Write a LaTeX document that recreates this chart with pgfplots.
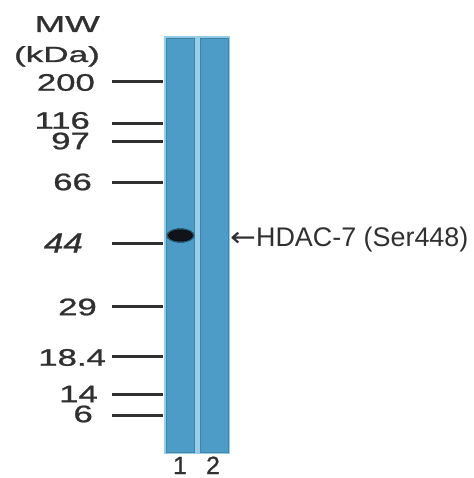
\documentclass[border=0pt]{standalone}
\usepackage{pgfplots}
\pgfplotsset{compat=1.18}
\usepackage{pgfplotstable}
\usepackage{fontspec}
\setmainfont{Liberation Sans}
\newfontfamily\markfont{Liberation Sans}[UprightFeatures={FakeBold=0.9}, ItalicFeatures={FakeBold=0.9}]
\newfontfamily\arrowfont{DejaVu Sans}

\definecolor{lane}{RGB}{76,156,199}
\definecolor{lanelight}{RGB}{150,205,232}
\definecolor{ink}{RGB}{48,48,48}
\definecolor{band}{RGB}{16,20,26}

% marker ladder: right end of label (px), line/label centre (px), size in kDa
\pgfplotstableread{
xend y label
95 82.5 200
90 120.5 116
90 141 97
92 182 66
97 307 29
106 357.5 18.4
98 394 14
93 414 6
}\markers

\begin{document}
\begin{tikzpicture}
\begin{axis}[
  width=474bp, height=478bp, scale only axis,
  xmin=0, xmax=474, ymin=0, ymax=478, y dir=reverse,
  hide axis, clip=false,
]
% lane background (light edges and gap)
\addplot[fill=lanelight, draw=none] coordinates {(164,36) (230,36) (230,454) (164,454)};
% lane 1 and lane 2
\addplot[fill=lane, draw=lane!85!black, line width=0.6bp] coordinates {(166,38) (194,38) (194,452) (166,452) (166,38)};
\addplot[fill=lane, draw=lane!85!black, line width=0.6bp] coordinates {(200,38) (228,38) (228,452) (200,452) (200,38)};

% band in lane 1
\addplot[only marks, mark=*, mark size=7bp,
  mark options={xscale=1.95, fill=band!70!lane, draw=none, opacity=0.55}] coordinates {(180.5,235.5)};
\addplot[only marks, mark=*, mark size=5.8bp,
  mark options={xscale=2.1, rotate=-5, fill=band, draw=none}] coordinates {(180.5,235.5)};

% marker lines
\addplot[draw=ink, line width=3bp, unbounded coords=jump] coordinates {
  (112,82) (163,82) (nan,nan)
  (112,123) (163,123) (nan,nan)
  (112,141) (163,141) (nan,nan)
  (112,182) (163,182) (nan,nan)
  (112,243) (163,243) (nan,nan)
  (112,306) (163,306) (nan,nan)
  (112,356) (163,356) (nan,nan)
  (112,394) (163,394) (nan,nan)
  (112,415) (163,415)
};

% marker labels
\addplot[only marks, mark=none, point meta=explicit symbolic,
  nodes near coords={\scalebox{1.45}[1]{\pgfplotspointmeta}},
  nodes near coords style={anchor=east, inner sep=0pt, text=ink,
    font=\markfont\fontsize{24}{24}\selectfont}]
  table[x=xend, y=y, meta=label] {\markers};
\addplot[only marks, mark=none, point meta=explicit symbolic,
  nodes near coords={\scalebox{1.25}[1]{\pgfplotspointmeta}},
  nodes near coords style={anchor=east, inner sep=0pt, text=ink,
    font=\markfont\fontsize{28}{28}\selectfont\itshape}]
  coordinates {(83,243) [44]};

\node[anchor=base east, inner sep=0pt, text=ink, font=\markfont\fontsize{23}{23}\selectfont]
  at (axis cs:100,32) {\scalebox{1.6}[1]{MW}};
\node[anchor=base east, inner sep=0pt, text=ink, font=\markfont\fontsize{22}{22}\selectfont]
  at (axis cs:100,62) {\scalebox{1.6}[1]{(kDa)}};

\node[anchor=west, inner sep=0pt, text=ink, font=\fontsize{27}{27}\selectfont]
  at (axis cs:230,240) {{\arrowfont\scalebox{1.15}[1]{←}}HDAC-7 (Ser448)};

\node[anchor=base, inner sep=0pt, text=ink, font=\markfont\fontsize{25}{25}\selectfont]
  at (axis cs:180,474) {1};
\node[anchor=base, inner sep=0pt, text=ink, font=\markfont\fontsize{25}{25}\selectfont]
  at (axis cs:213,474) {2};
\end{axis}
\pgfresetboundingbox
\path (current axis.south west) rectangle (current axis.north east);
\end{tikzpicture}
\end{document}
